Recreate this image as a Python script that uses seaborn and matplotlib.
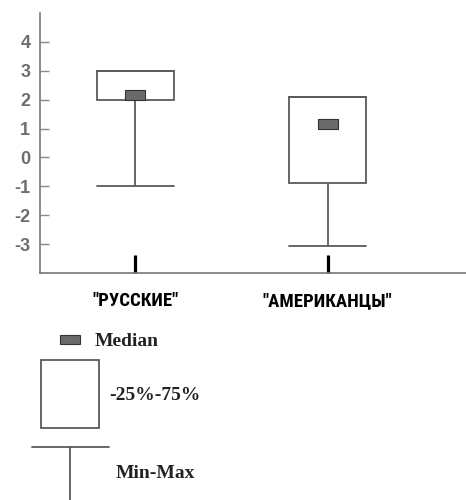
import numpy as np
import pandas as pd
import matplotlib
matplotlib.use("Agg")
import matplotlib.pyplot as plt
from matplotlib.patches import Rectangle
from matplotlib.lines import Line2D
from matplotlib import font_manager
from matplotlib.font_manager import FontProperties
from matplotlib.ft2font import FT2Font
import seaborn as sns

# Summary statistics for each group
groups = ['"РУССКИЕ"', '"АМЕРИКАНЦЫ"']
mins = [-1.0, -3.05]
q1s = [2.0, -0.9]
medians = [2.17, 1.15]
q3s = [3.0, 2.1]
maxs = [3.0, 2.1]
yticks = [-3, -2, -1, 0, 1, 2, 3, 4]

# Five-point samples reproduce each group's min / quartiles / median / max
rows = []
for g, lo, a, m, b, hi in zip(groups, mins, q1s, medians, q3s, maxs):
    for v in (lo, a, m, b, hi):
        rows.append({"group": g, "value": v})
df = pd.DataFrame(rows)
med_df = pd.DataFrame({"group": groups, "median": medians})

sns.set_theme(style="white")


def _has_cyrillic(path):
    try:
        return ord("Ж") in FT2Font(path).get_charmap()
    except Exception:
        return False


def _weight(w):
    if isinstance(w, int):
        return w
    return {"bold": 700, "heavy": 800, "black": 900, "semibold": 600,
            "demibold": 600}.get(str(w).lower(), 400)


def narrow_bold_font():
    """Pick a condensed bold face that covers Cyrillic."""
    prefs = ["Arial Narrow", "Liberation Sans Narrow", "Roboto Condensed",
             "PT Sans Narrow", "Archivo Narrow", "Open Sans Condensed",
             "Fira Sans Condensed", "IBM Plex Sans Condensed", "Asap Condensed"]
    cands = []
    for f in font_manager.fontManager.ttflist:
        cond = (f.stretch in ("condensed", "semi-condensed", "extra-condensed")
                or "Narrow" in f.name or "Condensed" in f.name)
        if not cond or "italic" in f.style.lower() or "Italic" in f.fname:
            continue
        cands.append(f)
    cands.sort(key=lambda f: (prefs.index(f.name) if f.name in prefs else 99,
                              abs(_weight(f.weight) - 700)))
    for f in cands:
        if _weight(f.weight) >= 600 and _has_cyrillic(f.fname):
            return FontProperties(fname=f.fname)
    for f in cands:
        if _has_cyrillic(f.fname):
            return FontProperties(fname=f.fname, weight="bold")
    return FontProperties(family="Liberation Sans", weight="bold")


label_font = narrow_bold_font()
label_font.set_size(13.5)

W, H = 466, 500
fig = plt.figure(figsize=(W / 100, H / 100), dpi=100)
ax = fig.add_axes([40 / W, 1 - 273 / H, 1 - 40 / W, (273 - 13) / H])

edge = "#5a5a5a"
sns.boxplot(
    data=df, x="group", y="value", order=groups, ax=ax,
    width=0.4, whis=np.inf, fill=True, color="white", linecolor=edge,
    linewidth=1.3, showfliers=False,
    boxprops=dict(facecolor="white", edgecolor=edge),
    medianprops=dict(visible=False),
)

# Caps span the full box width
for line in ax.lines:
    xs, ys = np.asarray(line.get_xdata(), float), np.asarray(line.get_ydata(), float)
    if len(xs) == 2 and ys[0] == ys[1] and xs[0] != xs[1]:
        c = xs.mean()
        line.set_xdata([c - 0.2, c + 0.2])

# Median markers: small dark rectangles
rect_marker = [(-1, -0.5), (1, -0.5), (1, 0.5), (-1, 0.5), (-1, -0.5)]
sns.scatterplot(
    data=med_df, x="group", y="median", ax=ax, marker=rect_marker,
    s=13.7 ** 2, color="#6a6a6a", edgecolor="#333333", linewidth=0.8, zorder=5,
)

ax.set_xlim(-0.495, 1.72)
ax.set_ylim(-4, 5)
ax.set_yticks(yticks)
ax.set_yticklabels([str(t) for t in yticks])
ax.set_xlabel("")
ax.set_ylabel("")

for s in ("top", "right"):
    ax.spines[s].set_visible(False)
for s in ("left", "bottom"):
    ax.spines[s].set_color("#777777")
    ax.spines[s].set_linewidth(1.2)

ax.tick_params(axis="y", direction="in", length=6.5, width=1.0, color="#888888",
               pad=7, labelsize=13, labelcolor="#6e6e6e", left=True)
ax.tick_params(axis="x", direction="in", length=13, width=2.3, color="black",
               pad=13.5, bottom=True)
for lbl in ax.get_yticklabels():
    lbl.set_fontfamily("Liberation Sans")
    lbl.set_fontweight("bold")
for lbl in ax.get_xticklabels():
    lbl.set_fontproperties(label_font)
    lbl.set_color("black")


# Key below the plot (pixel positions converted to figure fractions)
def fx(px):
    return px / W


def fy(py):
    return 1 - py / H


fig.patches.append(Rectangle((fx(60), fy(344)), 20 / W, 9 / H, transform=fig.transFigure,
                             facecolor="#6a6a6a", edgecolor="#333333", linewidth=0.8))
fig.patches.append(Rectangle((fx(41), fy(428)), 58 / W, 68 / H, transform=fig.transFigure,
                             facecolor="white", edgecolor=edge, linewidth=1.3))
fig.lines.append(Line2D([fx(32), fx(109)], [fy(447), fy(447)], transform=fig.transFigure,
                        color=edge, linewidth=1.3))
fig.lines.append(Line2D([fx(70), fx(70)], [fy(447), fy(500)], transform=fig.transFigure,
                        color=edge, linewidth=1.3))

key_font = dict(family="Liberation Serif", weight="bold", size=14, color="#222222",
                va="center", ha="left")
fig.text(fx(95), fy(342), "Median", **key_font)
fig.text(fx(109), fy(396), "-25%-75%", **key_font)
fig.text(fx(116), fy(474), "Min-Max", **key_font)

fig.savefig("out.png", dpi=100, facecolor="white")
